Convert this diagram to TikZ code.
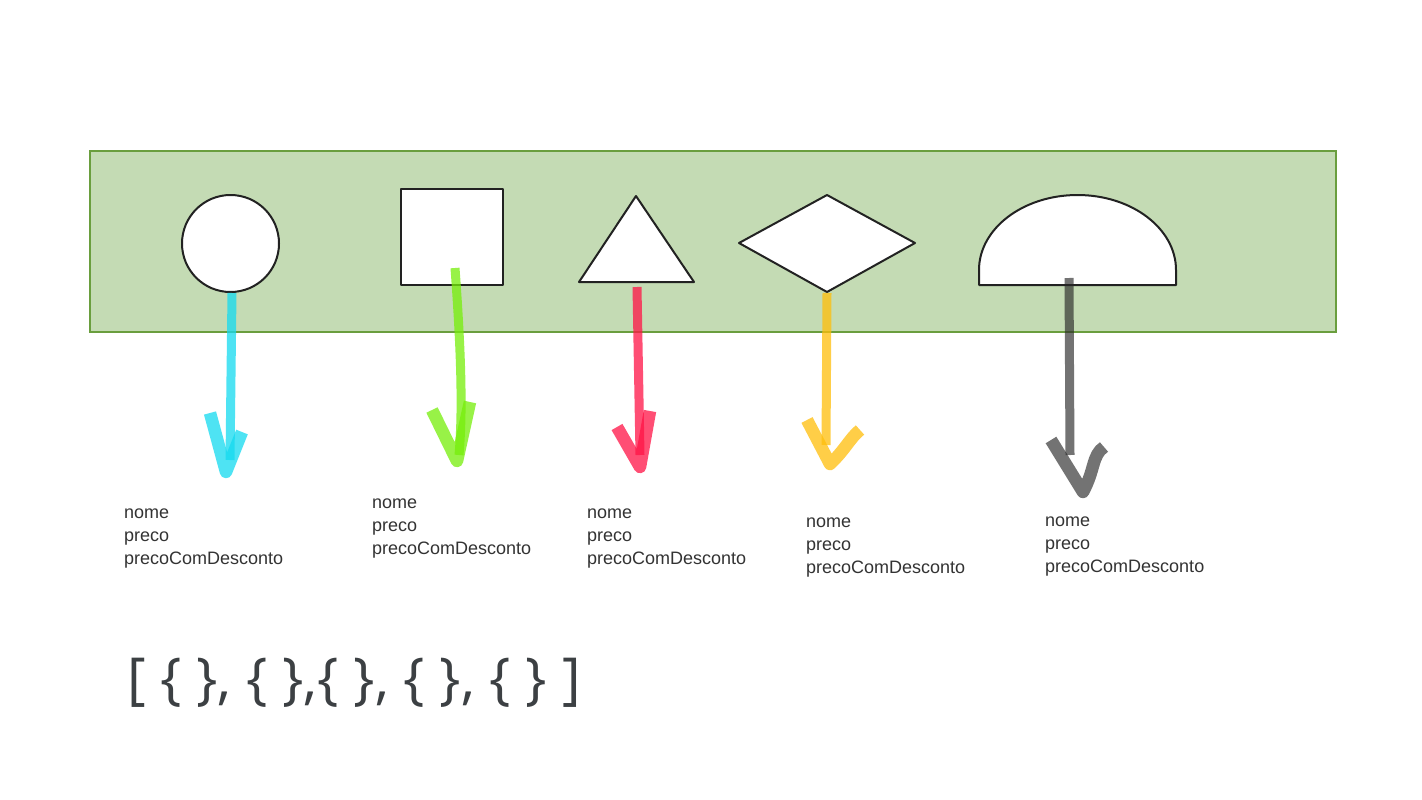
\documentclass[tikz,border=0pt]{standalone}
\usepackage{fontspec}
\setmainfont{Liberation Sans}
\newfontfamily\bracefont{Open Sans}
\definecolor{boxfill}{RGB}{196,219,180}
\definecolor{boxline}{RGB}{106,158,62}
\definecolor{shapeline}{RGB}{34,34,34}
\definecolor{lbltext}{RGB}{51,51,51}
\definecolor{bracetext}{RGB}{60,64,67}
\definecolor{inkcyan}{RGB}{20,218,240}
\definecolor{inkgreen}{RGB}{118,238,10}
\definecolor{inkred}{RGB}{255,20,70}
\definecolor{inkyellow}{RGB}{255,190,10}
\definecolor{inkblack}{RGB}{40,40,40}
\begin{document}
\begin{tikzpicture}[x=1pt,y=-1pt,
  shp/.style={draw=shapeline, line width=2pt, fill=white, line join=round},
  stem/.style={line width=9pt, opacity=0.75, line cap=butt, line join=round},
  head/.style={line width=12.5pt, opacity=0.75, line cap=butt, line join=round},
  lbl/.style={font=\fontsize{18}{23}\selectfont, text=lbltext, align=left, inner sep=0pt}
]
\useasboundingbox[fill=white] (0,0) rectangle (1422,800);

% panel
\node[draw=boxline, fill=boxfill, line width=2pt, minimum width=1246pt, minimum height=181pt,
      inner sep=0pt, anchor=north west] (panel) at (89,150) {};

% shapes
\draw[shp] (230.5,243.5) circle[radius=48.5];
\draw[shp] (401,189) rectangle (503,285);
\draw[shp] (636,196) -- (694,282) -- (579,282) -- cycle;
\draw[shp] (739,243) -- (827,195) -- (915,243) -- (827,292) -- cycle;
\draw[shp] (979,285) -- (979,270) arc[start angle=180, end angle=360, x radius=98.5, y radius=75] -- (1176,285) -- cycle;

% arrow coordinates
\coordinate (c1s) at (232,293);  \coordinate (c1t) at (226,472);
\coordinate (c1l) at (210,413);  \coordinate (c1r) at (242,432);
\coordinate (c2s) at (455,268);  \coordinate (c2t) at (457,461);
\coordinate (c2l) at (432,410);  \coordinate (c2r) at (470,402);
\coordinate (c3s) at (637,287);  \coordinate (c3t) at (640,467);
\coordinate (c3l) at (617,427);  \coordinate (c3r) at (650,411);
\coordinate (c4s) at (827,293);  \coordinate (c4t) at (830,464);
\coordinate (c4l) at (807,420);  \coordinate (c4r) at (860,430);
\coordinate (c5s) at (1069,278); \coordinate (c5t) at (1083,492);
\coordinate (c5l) at (1051,440); \coordinate (c5r) at (1104,447);

% arrows
\draw[stem, inkcyan] (c1s) -- (230,460);
\draw[head, inkcyan] (c1l) -- (c1t) -- (c1r);
\draw[stem, inkgreen] (c2s) .. controls (461,350) and (463,410) .. (459,455);
\draw[head, inkgreen] (c2l) -- (c2t) -- (c2r);
\draw[stem, inkred] (c3s) -- (640,455);
\draw[head, inkred] (c3l) -- (c3t) -- (c3r);
\draw[stem, inkyellow] (c4s) -- (826,445);
\draw[head, inkyellow] (c4l) -- (c4t) .. controls (845,450) and (850,438) .. (c4r);
\draw[stem, inkblack, opacity=0.65] (c5s) -- (1070,455);
\draw[head, inkblack, opacity=0.65] (c5l) -- (c5t) .. controls (1095,470) and (1092,455) .. (c5r);

% labels (base anchor sits on the last line)
\node[lbl, anchor=base west] (t1) at (124,564) {nome\\preco\\precoComDesconto};
\node[lbl, anchor=base west] (t2) at (372,554) {nome\\preco\\precoComDesconto};
\node[lbl, anchor=base west] (t3) at (587,564) {nome\\preco\\precoComDesconto};
\node[lbl, anchor=base west] (t4) at (806,573) {nome\\preco\\precoComDesconto};
\node[lbl, anchor=base west] (t5) at (1045,572) {nome\\preco\\precoComDesconto};

% array
\node[anchor=base west, inner sep=0pt, text=bracetext, font=\bracefont\fontsize{56.5}{56.5}\selectfont]
  (arr) at (127,698) {[ \{ \}, \{ \},\{ \}, \{ \}, \{ \} ]};
\end{tikzpicture}
\end{document}
